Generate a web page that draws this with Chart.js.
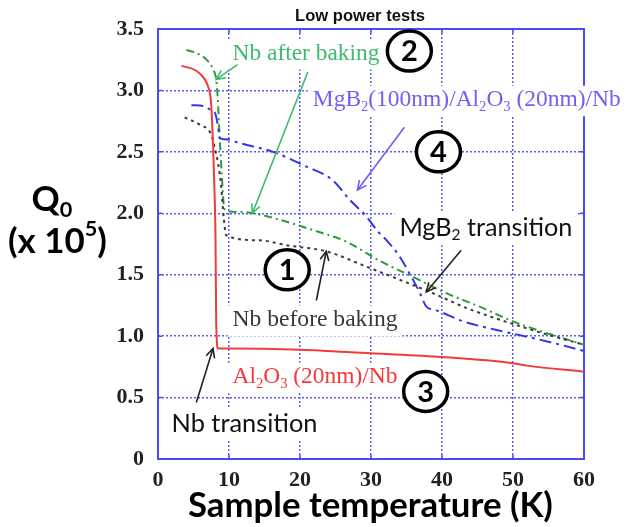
<!DOCTYPE html>
<html><head><meta charset="utf-8">
<script src="https://cdn.jsdelivr.net/npm/chart.js@4.4.0/dist/chart.umd.min.js"></script>
<style>html,body{margin:0;padding:0;background:#fff}canvas{display:block}</style>
</head><body>
<canvas id="c" width="628" height="527"></canvas>
<script>
// ---- tick labels ----
const xTicks = [0, 10, 20, 30, 40, 50, 60];
const yTicks = [0, 0.5, 1.0, 1.5, 2.0, 2.5, 3.0, 3.5];
const yTickLabels = ['0', '0.5', '1.0', '1.5', '2.0', '2.5', '3.0', '3.5'];

// ---- series: sample temperature (K) and Q0 (x 10^5) ----
const redT = [3.3, 5.4, 6.6, 7.0, 7.3, 7.5, 7.75, 7.9, 8.0, 8.1, 8.2, 8.45, 10, 20, 30, 40, 50, 52, 60];
const redQ = [3.20, 3.16, 3.09, 3.04, 2.98, 2.88, 2.56, 2.30, 2.10, 1.80, 1.10, 0.90, 0.90, 0.89, 0.86, 0.83, 0.78, 0.76, 0.71];

const greenT = [4.0, 5.9, 7.3, 8.0, 8.2, 8.4, 8.7, 9.0, 9.3, 9.6, 12, 14.3, 17, 22, 26.5, 31, 36, 40.6, 45.3, 50, 55, 60];
const greenQ = [3.33, 3.29, 3.22, 3.14, 3.09, 2.95, 2.60, 2.30, 2.05, 2.02, 2.01, 1.99, 1.95, 1.86, 1.77, 1.62, 1.48, 1.35, 1.24, 1.12, 1.02, 0.93];

const blueT = [4.7, 6.6, 7.7, 8.0, 8.45, 8.7, 10.1, 11, 13, 16.2, 20.9, 24.6, 27, 29.4, 31, 32.2, 34, 35.9, 36.9, 37.8, 39.2, 43, 47.7, 52.4, 56, 60];
const blueQ = [2.88, 2.87, 2.83, 2.82, 2.71, 2.61, 2.60, 2.58, 2.55, 2.50, 2.38, 2.27, 2.11, 1.97, 1.85, 1.78, 1.65, 1.46, 1.35, 1.24, 1.21, 1.12, 1.05, 0.99, 0.94, 0.88];

const blackT = [3.75, 5.9, 7.5, 8.0, 8.45, 8.9, 9.25, 9.6, 14.3, 18.1, 23.7, 29.6, 34, 38.7, 43.4, 50.5, 55, 60];
const blackQ = [2.78, 2.72, 2.64, 2.53, 2.41, 2.22, 1.97, 1.82, 1.78, 1.74, 1.69, 1.56, 1.46, 1.35, 1.23, 1.09, 1.01, 0.93];

const mk = (T, Q) => T.map((t, i) => ({ x: t, y: Q[i] }));

// ---- annotations (anchored in data coordinates) ----
const SERIF = '"Liberation Serif", "Times New Roman", serif';
const SANS = 'Lato, "Open Sans", sans-serif';
const labels = [
  { segs: [['Nb after baking', '']], t: 10.5, q: 3.30, w: 147, font: SERIF, color: '#3dba6e' },
  { segs: [['MgB', ''], ['2', 'sub'], ['(100nm)/Al', ''], ['2', 'sub'], ['O', ''], ['3', 'sub'], [' (20nm)/Nb', '']], t: 21.8, q: 2.92, w: 308, font: SERIF, color: '#7260f2' },
  { segs: [['MgB', ''], ['2', 'sub'], [' transition', '']], t: 34.0, q: 1.88, w: 173, font: SANS, color: '#111' },
  { segs: [['Nb before baking', '']], t: 10.5, q: 1.13, w: 165, font: SERIF, color: '#383838' },
  { segs: [['Al', ''], ['2', 'sub'], ['O', ''], ['3', 'sub'], [' (20nm)/Nb', '']], t: 10.5, q: 0.665, w: 165, font: SERIF, color: '#f53838' },
  { segs: [['Nb transition', '']], t: 1.9, q: 0.29, w: 146, font: SANS, color: '#111' }
];
const arrows = [
  { from: [11.2, 3.21], to: [8.2, 3.09], color: '#3dba6e' },
  { from: [21.1, 3.15], to: [13.3, 2.00], color: '#3dba6e' },
  { from: [34.7, 2.70], to: [28.1, 2.19], color: '#6f5ef2' },
  { from: [42.7, 1.70], to: [37.8, 1.36], color: '#222' },
  { from: [22.3, 1.29], to: [23.7, 1.69], color: '#222' },
  { from: [5.4, 0.46], to: [7.75, 0.90], color: '#222' }
];
const circles = [
  { n: '2', t: 35.4, q: 3.32 },
  { n: '4', t: 39.5, q: 2.50 },
  { n: '1', t: 18.2, q: 1.54 },
  { n: '3', t: 37.7, q: 0.55 }
];

function segFont(size, mode, font, weight) {
  const s = mode ? size * 0.62 : size;
  return (weight || 'normal') + ' ' + s.toFixed(2) + 'px ' + font;
}
function richWidth(ctx, segs, size, font, weight) {
  let w = 0;
  segs.forEach(([txt, mode]) => { ctx.font = segFont(size, mode, font, weight); w += ctx.measureText(txt).width; });
  return w;
}
function drawRich(ctx, segs, x, cy, size, font, weight, color) {
  ctx.fillStyle = color;
  ctx.textBaseline = 'middle';
  ctx.textAlign = 'left';
  segs.forEach(([txt, mode]) => {
    ctx.font = segFont(size, mode, font, weight);
    const dy = mode === 'sub' ? size * 0.28 : mode === 'sup' ? -size * 0.38 : 0;
    ctx.fillText(txt, x, cy + dy);
    x += ctx.measureText(txt).width;
  });
}
function fitSize(ctx, segs, w, font, weight) {
  return 20 * w / richWidth(ctx, segs, 20, font, weight);
}
function arrow(ctx, x1, y1, x2, y2, color) {
  ctx.save();
  ctx.strokeStyle = color; ctx.lineWidth = 1.6;
  ctx.beginPath(); ctx.moveTo(x1, y1); ctx.lineTo(x2, y2); ctx.stroke();
  const ang = Math.atan2(y2 - y1, x2 - x1), L = 10, A = 0.45;
  ctx.beginPath();
  ctx.moveTo(x2 - L * Math.cos(ang - A), y2 - L * Math.sin(ang - A));
  ctx.lineTo(x2, y2);
  ctx.lineTo(x2 - L * Math.cos(ang + A), y2 - L * Math.sin(ang + A));
  ctx.stroke();
  ctx.restore();
}

const annot = {
  id: 'annot',
  beforeDatasetsDraw(chart) {
    const ctx = chart.ctx, a = chart.chartArea, sx = chart.scales.x, sy = chart.scales.y;
    ctx.save();
    // frame
    ctx.strokeStyle = '#4b4bf5'; ctx.lineWidth = 2;
    ctx.strokeRect(a.left, a.top, a.right - a.left, a.bottom - a.top);
    // inward ticks
    ctx.lineWidth = 1.5;
    xTicks.slice(1, -1).forEach(v => {
      const px = sx.getPixelForValue(v);
      ctx.beginPath(); ctx.moveTo(px, a.top); ctx.lineTo(px, a.top + 4);
      ctx.moveTo(px, a.bottom); ctx.lineTo(px, a.bottom - 4); ctx.stroke();
    });
    yTicks.slice(1, -1).forEach(v => {
      const py = sy.getPixelForValue(v);
      ctx.beginPath(); ctx.moveTo(a.left, py); ctx.lineTo(a.left + 4, py);
      ctx.moveTo(a.right, py); ctx.lineTo(a.right - 4, py); ctx.stroke();
    });
    // labels with white boxes
    labels.forEach(L => {
      const size = fitSize(ctx, L.segs, L.w, L.font, 'normal');
      const x = sx.getPixelForValue(L.t), cy = sy.getPixelForValue(L.q);
      ctx.fillStyle = '#fff';
      ctx.fillRect(x - 5, cy - size * 0.62, L.w + 10, size * 1.3);
      drawRich(ctx, L.segs, x, cy, size, L.font, 'normal', L.color);
    });
    ctx.restore();
  },
  afterDatasetsDraw(chart) {
    const ctx = chart.ctx, sx = chart.scales.x, sy = chart.scales.y;
    arrows.forEach(A => arrow(ctx, sx.getPixelForValue(A.from[0]), sy.getPixelForValue(A.from[1]),
      sx.getPixelForValue(A.to[0]), sy.getPixelForValue(A.to[1]), A.color));
    ctx.save();
    circles.forEach(C => {
      const cx = sx.getPixelForValue(C.t), cy = sy.getPixelForValue(C.q);
      ctx.fillStyle = '#fff';
      ctx.beginPath(); ctx.ellipse(cx, cy, 22, 20, 0, 0, Math.PI * 2); ctx.fill();
      ctx.strokeStyle = '#000'; ctx.lineWidth = 3.5; ctx.stroke();
      ctx.fillStyle = '#000'; ctx.font = 'bold 29px ' + SANS;
      ctx.textAlign = 'center'; ctx.textBaseline = 'middle';
      ctx.fillText(C.n, cx, cy + 1);
    });
    ctx.restore();
  },
  afterDraw(chart) {
    const ctx = chart.ctx;
    ctx.save();
    // title
    const tSegs = [['Low power tests', '']];
    const tf = '"Liberation Sans", Arial, sans-serif';
    const ts = fitSize(ctx, tSegs, 130, tf, 'bold');
    drawRich(ctx, tSegs, 360 - 65, 16, ts, tf, 'bold', '#111');
    // x title
    const xs = [['Sample temperature (K)', '']];
    const xsz = fitSize(ctx, xs, 365, SANS, 'bold');
    drawRich(ctx, xs, 188, 506, xsz, SANS, 'bold', '#000');
    // y title
    const y2 = [['(x 10', ''], ['5', 'sup'], [')', '']];
    const ysz = fitSize(ctx, y2, 99, SANS, 'bold');
    const y1 = [['Q', ''], ['0', 'sub']];
    const w1 = richWidth(ctx, y1, ysz, SANS, 'bold');
    drawRich(ctx, y1, 52 - w1 / 2, 200, ysz, SANS, 'bold', '#000');
    drawRich(ctx, y2, 8, 242, ysz, SANS, 'bold', '#000');
    ctx.restore();
  }
};

const tickFont = { family: SERIF, weight: 'bold', size: 22 };
new Chart(document.getElementById('c'), {
  type: 'line',
  data: {
    datasets: [
      { data: mk(redT, redQ), borderColor: '#f23a3a', borderWidth: 2 },
      { data: mk(blackT, blackQ), borderColor: '#3a3a3a', borderWidth: 2, borderDash: [3, 4] },
      { data: mk(blueT, blueQ), borderColor: '#3535e8', borderWidth: 2, borderDash: [12, 5, 3, 5] },
      { data: mk(greenT, greenQ), borderColor: '#2f9a3a', borderWidth: 2, borderDash: [8, 4, 2, 4] }
    ]
  },
  options: {
    responsive: false, animation: false, devicePixelRatio: 1,
    layout: { padding: { left: 0, right: 44, top: 29, bottom: 0 } },
    elements: { point: { radius: 0 }, line: { cubicInterpolationMode: 'monotone', fill: false } },
    plugins: { legend: { display: false }, tooltip: { enabled: false }, title: { display: false } },
    scales: {
      x: {
        type: 'linear', min: 0, max: 60,
        afterBuildTicks: s => { s.ticks = xTicks.map(v => ({ value: v })); },
        ticks: { padding: 8, font: tickFont, color: '#222', maxRotation: 0, callback: v => String(v) },
        grid: { color: '#5b5bf0', lineWidth: 1.5, drawTicks: false },
        border: { display: false, dash: [2, 2] },
        afterFit: s => { s.height = 68; }
      },
      y: {
        min: 0, max: 3.5,
        afterBuildTicks: s => { s.ticks = yTicks.map(v => ({ value: v })); },
        ticks: { padding: 14, font: tickFont, color: '#222',
          callback: v => { const i = yTicks.findIndex(t => Math.abs(t - v) < 1e-6); return i >= 0 ? yTickLabels[i] : ''; } },
        grid: { color: '#5b5bf0', lineWidth: 1.5, drawTicks: false },
        border: { display: false, dash: [2, 2] },
        afterFit: s => { s.width = 158; }
      }
    }
  },
  plugins: [annot]
});
</script>
</body></html>
